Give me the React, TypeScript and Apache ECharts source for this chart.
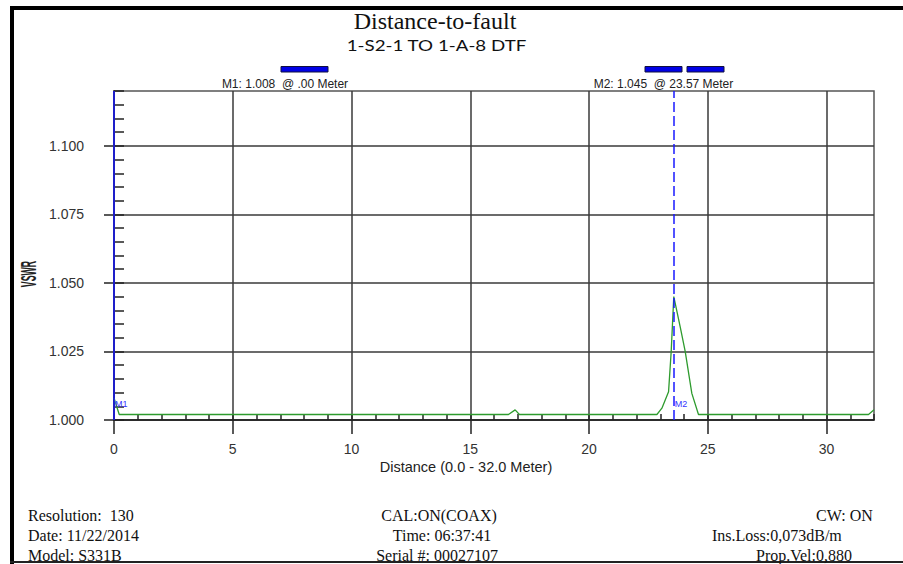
import { useEffect, useRef } from 'react';
import * as echarts from 'echarts';

// Trace: distance (m) vs. VSWR
const distance = [0, 0.22, 16.61, 16.89, 17.07, 22.86, 23.07, 23.35, 23.46, 23.57, 23.84, 24.05, 24.33, 24.61, 31.77, 32];
const vswr = [1.008, 1.002, 1.002, 1.0037, 1.002, 1.002, 1.0043, 1.0103, 1.0249, 1.045, 1.034, 1.025, 1.0097, 1.002, 1.002, 1.0037];

const xTicks = [0, 5, 10, 15, 20, 25, 30];
const yTicks = [1.0, 1.025, 1.05, 1.075, 1.1];

// Markers
const markerNames = ['M1', 'M2'];
const markerDistance = [0, 23.57];
const markerVswr = [1.008, 1.045];

const titleText = 'Distance-to-fault';
const subtitleText = '1-S2-1 TO 1-A-8 DTF';
const xAxisTitle = 'Distance (0.0 - 32.0 Meter)';
const yAxisTitle = 'VSWR';

const footerLeft = ['Resolution:  130', 'Date: 11/22/2014', 'Model: S331B'];
const footerCenter = ['CAL:ON(COAX)', 'Time: 06:37:41', 'Serial #: 00027107'];
const footerRight = ['CW: ON', 'Ins.Loss:0,073dB/m', 'Prop.Vel:0,880'];

const SANS = '"Liberation Sans", Arial, sans-serif';
const SERIF = '"Liberation Serif", "Times New Roman", serif';

function markerReadout(i: number): string {
  const d = markerDistance[i].toFixed(2).replace(/^0\./, '.');
  return `${markerNames[i]}: ${markerVswr[i].toFixed(3)}  @ ${d} Meter`;
}

export default function App() {
  const ref = useRef<HTMLDivElement>(null);

  useEffect(() => {
    document.body.style.margin = '0';
    const chart = echarts.init(ref.current!, undefined, { renderer: 'svg' });

    const tickLine = { color: '#222', width: 1.5 };
    const gridLine = { color: '#3a3a3a', width: 1.5 };
    const markerBlue = '#1a1aff';

    const footerRows = [515, 535, 555];
    const footerCenterX = [439, 442, 437];
    const footerRightX = [816, 712, 756];

    const graphic: any[] = [
      // page frame
      { type: 'rect', shape: { x: 10, y: 6, width: 4, height: 558 }, style: { fill: '#000' }, silent: true },
      { type: 'rect', shape: { x: 10, y: 6, width: 893, height: 4 }, style: { fill: '#000' }, silent: true },
      { type: 'rect', shape: { x: 10, y: 561, width: 893, height: 2 }, style: { fill: '#222' }, silent: true },
      // titles
      {
        type: 'text', x: 435, y: 21, silent: true,
        style: { text: titleText, font: `24px ${SERIF}`, fill: '#111', align: 'center', verticalAlign: 'middle' },
      },
      {
        type: 'text', x: 436.5, y: 45, scaleX: 1.25, silent: true,
        style: { text: subtitleText, font: `15px Lato, "Open Sans", sans-serif`, fill: '#111', align: 'center', verticalAlign: 'middle' },
      },
      // marker bars and readouts
      { type: 'rect', shape: { x: 281, y: 66.5, width: 47, height: 5.5 }, style: { fill: '#0000e6', stroke: '#101040', lineWidth: 1 }, silent: true },
      { type: 'rect', shape: { x: 645, y: 66.5, width: 37, height: 5.5 }, style: { fill: '#0000e6', stroke: '#101040', lineWidth: 1 }, silent: true },
      { type: 'rect', shape: { x: 687, y: 66.5, width: 37, height: 5.5 }, style: { fill: '#0000e6', stroke: '#101040', lineWidth: 1 }, silent: true },
      {
        type: 'text', x: 285, y: 83.5, silent: true,
        style: { text: markerReadout(0), font: `12px ${SANS}`, fill: '#222', align: 'center', verticalAlign: 'middle' },
      },
      {
        type: 'text', x: 663.5, y: 83.5, silent: true,
        style: { text: markerReadout(1), font: `12px ${SANS}`, fill: '#222', align: 'center', verticalAlign: 'middle' },
      },
      // axis titles
      {
        type: 'text', x: 29, y: 274, rotation: Math.PI / 2, scaleX: 0.4, silent: true,
        style: { text: yAxisTitle, font: `bold 22px ${SANS}`, fill: '#222', align: 'center', verticalAlign: 'middle' },
      },
      {
        type: 'text', x: 466, y: 467, silent: true,
        style: { text: xAxisTitle, font: `14.5px ${SANS}`, fill: '#222', align: 'center', verticalAlign: 'middle' },
      },
    ];

    footerLeft.forEach((t, i) =>
      graphic.push({
        type: 'text', x: 28, y: footerRows[i], silent: true,
        style: { text: t, font: `16px ${SERIF}`, fill: '#111', align: 'left', verticalAlign: 'middle' },
      })
    );
    footerCenter.forEach((t, i) =>
      graphic.push({
        type: 'text', x: footerCenterX[i], y: footerRows[i], silent: true,
        style: { text: t, font: `16px ${SERIF}`, fill: '#111', align: 'center', verticalAlign: 'middle' },
      })
    );
    footerRight.forEach((t, i) =>
      graphic.push({
        type: 'text', x: footerRightX[i], y: footerRows[i], silent: true,
        style: { text: t, font: `16px ${SERIF}`, fill: '#111', align: 'left', verticalAlign: 'middle' },
      })
    );

    chart.setOption({
      animation: false,
      backgroundColor: '#fff',
      grid: {
        left: 114, top: 91, width: 760, height: 329,
        show: true, borderColor: '#555', borderWidth: 1.5,
        containLabel: false, outerBoundsMode: 'none',
      },
      xAxis: [
        {
          type: 'value', min: 0, max: 32, interval: 5, position: 'bottom',
          axisLine: { show: true, onZero: false, lineStyle: tickLine },
          axisTick: { show: true, inside: false, length: 14, customValues: xTicks, lineStyle: tickLine },
          axisLabel: {
            margin: 22, fontSize: 14, color: '#333', fontFamily: SANS,
            customValues: xTicks,
          },
          splitLine: { show: true, lineStyle: gridLine },
        },
        {
          // unit minor ticks, drawn inward
          type: 'value', min: 0, max: 32, interval: 1, position: 'bottom', gridIndex: 0,
          axisLine: { show: false },
          axisTick: { show: true, inside: true, length: 6, lineStyle: tickLine },
          axisLabel: { show: false },
          splitLine: { show: false },
        },
      ],
      yAxis: [
        {
          type: 'value', min: 1, max: 1.12, interval: 0.025, position: 'left',
          axisLine: { show: true, onZero: false, lineStyle: tickLine },
          axisTick: { show: true, inside: false, length: 10, customValues: yTicks, lineStyle: tickLine },
          axisLabel: {
            margin: 30, fontSize: 14, color: '#333', fontFamily: SANS,
            customValues: yTicks,
            formatter: (v: number) => v.toFixed(3),
          },
          splitLine: { show: true, lineStyle: gridLine },
        },
        {
          // 0.005 minor ticks, drawn inward
          type: 'value', min: 1, max: 1.12, interval: 0.005, position: 'left', gridIndex: 0,
          axisLine: { show: false },
          axisTick: { show: true, inside: true, length: 10, lineStyle: tickLine },
          axisLabel: { show: false },
          splitLine: { show: false },
        },
      ],
      series: [
        {
          type: 'line',
          xAxisIndex: 0,
          yAxisIndex: 0,
          data: distance.map((d, i) => [d, vswr[i]]),
          symbol: 'none',
          showSymbol: false,
          clip: false,
          lineStyle: { color: '#2e9b2e', width: 1.3 },
          itemStyle: { color: '#2e9b2e' },
          markLine: {
            silent: true,
            symbol: ['none', 'none'],
            label: { show: false },
            data: markerDistance.map((d, i) => ({
              xAxis: d,
              lineStyle: { color: markerBlue, width: 1.5, type: i === 0 ? 'solid' : [10, 4] },
            })),
          },
          markPoint: {
            silent: true,
            symbol: 'circle',
            symbolSize: 0,
            label: {
              show: true, position: 'right', distance: 1, formatter: '{b}',
              fontSize: 9, color: '#3535ff', fontFamily: SANS,
            },
            data: markerNames.map((n, i) => ({ name: n, coord: [markerDistance[i], 1.006] })),
          },
        },
      ],
      graphic,
    });

    return () => chart.dispose();
  }, []);

  return <div ref={ref} style={{ width: 903, height: 564, background: '#fff' }} />;
}
